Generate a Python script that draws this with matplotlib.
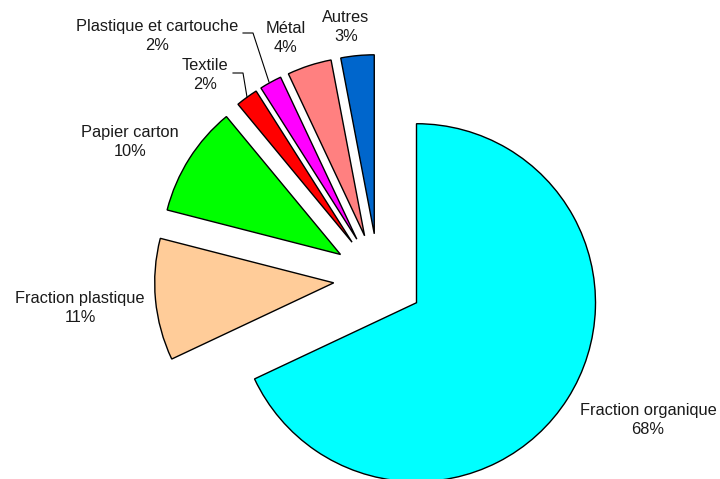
import matplotlib.pyplot as plt

plt.rcParams['font.family'] = ['Liberation Sans', 'DejaVu Sans']

# Composition des déchets (%)
categories = ['Fraction organique', 'Fraction plastique', 'Papier carton',
              'Textile', 'Plastique et cartouche', 'Métal', 'Autres']
values = [68, 11, 10, 2, 2, 4, 3]
colors = ['#00FFFF', '#FFCC99', '#00FF00', '#FF0000', '#FF00FF', '#FF8080', '#0066CC']

W, H = 720, 479

fig = plt.figure(figsize=(W / 100, H / 100), dpi=100)
ax = fig.add_axes([0, 0, 1, 1])

# toutes les parts détachées du centre (explode en pixels)
radius = 179
ax.pie(values, colors=colors, startangle=90, counterclock=False,
       center=(378.5, H - 278.6), radius=radius,
       explode=[45] * len(values),
       wedgeprops=dict(edgecolor='black', linewidth=1.0))

# pie() impose ses propres limites : on repasse en pixels
ax.set_xlim(0, W)
ax.set_ylim(0, H)
ax.set_aspect('auto')
ax.axis('off')

# positions des étiquettes (centre du texte, en pixels depuis le haut)
label_pos = {
    'Fraction organique': (648, 420),
    'Fraction plastique': (80, 308),
    'Papier carton': (130, 142),
    'Textile': (205, 75),
    'Plastique et cartouche': (157, 36),
    'Métal': (286, 38),
    'Autres': (346, 27),
}
for name, val in zip(categories, values):
    x, y = label_pos[name]
    ax.text(x, H - y, f'{name}\n{val}%', ha='center', va='center',
            fontsize=11.8, color='#1a1a1a', linespacing=1.4)

# traits de rappel pour les petites parts
ax.plot([233, 243, 247], [H - 73, H - 73, H - 97], color='black', lw=0.8)
ax.plot([243, 253, 269], [H - 33, H - 33, H - 82], color='black', lw=0.8)

fig.savefig('out.png', dpi=100, facecolor='white')
